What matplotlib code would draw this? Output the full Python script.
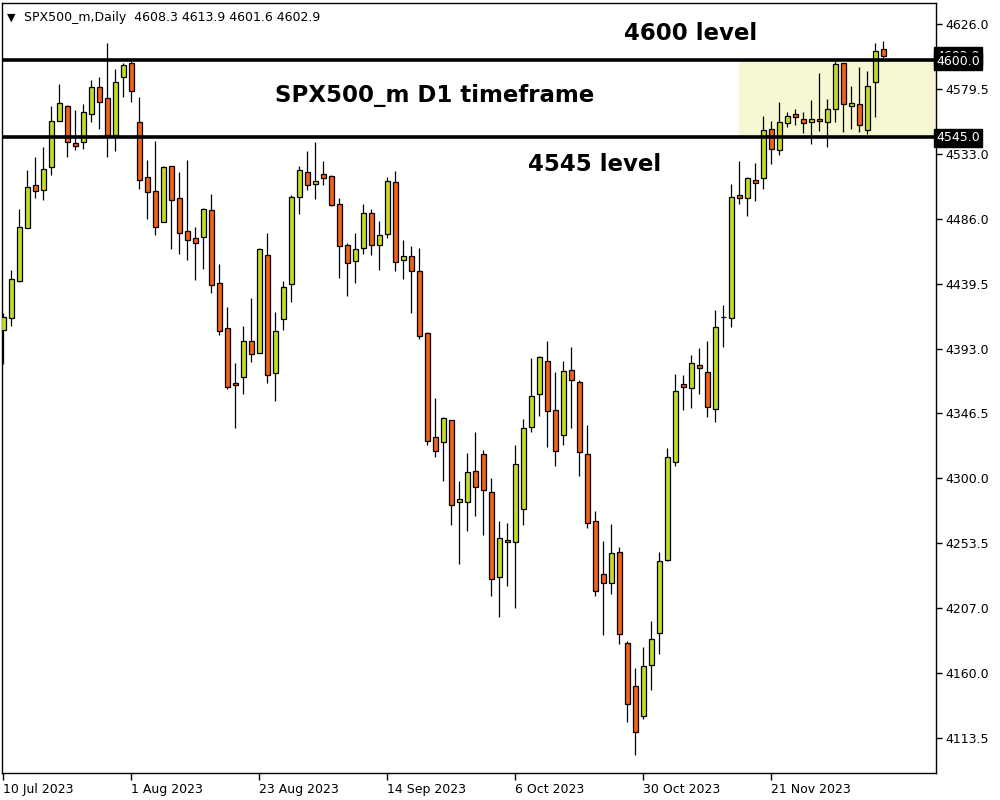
import matplotlib
matplotlib.use("Agg")
import matplotlib.pyplot as plt
from matplotlib.patches import Rectangle
import numpy as np

# ---------------- data ----------------
opens = [4406.3, 4414.9, 4441.5, 4479.5, 4510.4, 4506.8, 4523.3, 4556.4, 4567.1, 4540.6,
         4541.3, 4561.4, 4580.8, 4572.9, 4546.3, 4587.9, 4598.0, 4555.6, 4516.2, 4506.1,
         4483.9, 4524.1, 4501.1, 4477.4, 4472.4, 4473.1, 4492.5, 4440.1, 4407.8, 4368.3,
         4372.6, 4398.4, 4389.8, 4460.2, 4375.5, 4414.2, 4439.3, 4501.8, 4519.7, 4511.1,
         4518.3, 4516.9, 4496.8, 4467.3, 4455.9, 4465.2, 4490.3, 4467.3, 4475.2, 4512.6,
         4456.6, 4459.4, 4448.7, 4404.2, 4329.5, 4325.9, 4341.7, 4282.9, 4282.9, 4305.1,
         4317.3, 4290.0, 4229.0, 4255.6, 4254.2, 4277.8, 4336.7, 4360.4, 4384.1, 4348.9,
         4331.0, 4377.6, 4369.0, 4317.3, 4269.2, 4231.2, 4224.7, 4247.0, 4181.7, 4150.8,
         4129.3, 4165.9, 4188.8, 4241.2, 4311.6, 4367.6, 4364.7, 4381.2, 4376.2, 4349.6,
         4415.7, 4414.9, 4503.2, 4501.1, 4514.0, 4515.4, 4550.6, 4535.5, 4554.9, 4561.4,
         4557.8, 4555.6, 4557.8, 4555.6, 4565.0, 4598.0, 4567.1, 4568.6, 4549.9, 4584.3,
         4608.3]
highs = [4418.5, 4449.4, 4493.2, 4521.2, 4530.5, 4537.7, 4567.1, 4582.9, 4567.8, 4564.2,
         4568.6, 4585.8, 4587.9, 4612.3, 4593.7, 4598.0, 4599.4, 4573.6, 4528.4, 4542.0,
         4524.1, 4524.1, 4519.7, 4528.4, 4480.3, 4493.9, 4504.0, 4453.7, 4422.8, 4382.6,
         4409.2, 4429.3, 4465.2, 4476.0, 4419.3, 4441.5, 4503.2, 4524.1, 4534.8, 4541.3,
         4527.6, 4517.6, 4501.1, 4468.8, 4476.0, 4496.8, 4493.2, 4484.6, 4516.2, 4520.5,
         4470.9, 4466.6, 4465.2, 4404.9, 4357.5, 4343.9, 4341.7, 4297.9, 4318.0, 4333.1,
         4320.2, 4300.1, 4269.2, 4267.8, 4323.8, 4342.4, 4386.2, 4387.7, 4398.4, 4376.2,
         4384.1, 4394.1, 4370.4, 4338.1, 4276.4, 4254.9, 4267.1, 4250.6, 4183.1, 4163.7,
         4178.8, 4197.5, 4247.0, 4321.6, 4374.7, 4374.0, 4388.4, 4393.4, 4398.4, 4420.7,
         4424.3, 4511.1, 4527.6, 4516.2, 4526.2, 4559.9, 4556.4, 4570.0, 4562.8, 4565.0,
         4562.8, 4571.4, 4590.8, 4572.1, 4599.4, 4598.0, 4581.5, 4595.1, 4592.2, 4612.3,
         4613.9]
lows = [4381.9, 4409.2, 4440.8, 4479.5, 4501.1, 4499.6, 4517.6, 4556.4, 4530.5, 4535.5,
        4536.3, 4555.6, 4550.6, 4530.5, 4534.8, 4573.6, 4570.0, 4507.5, 4486.0, 4474.5,
        4483.9, 4464.5, 4460.9, 4456.6, 4442.2, 4450.1, 4432.9, 4402.7, 4364.0, 4336.0,
        4360.4, 4383.4, 4389.8, 4368.3, 4355.4, 4406.3, 4426.4, 4489.6, 4506.8, 4500.4,
        4510.4, 4495.3, 4443.7, 4430.7, 4440.1, 4460.9, 4460.2, 4449.4, 4472.4, 4448.7,
        4442.9, 4418.5, 4399.9, 4323.8, 4315.2, 4297.9, 4266.4, 4238.4, 4262.0, 4272.8,
        4259.2, 4215.4, 4200.3, 4222.6, 4206.8, 4266.4, 4333.1, 4344.6, 4322.3, 4308.7,
        4323.8, 4336.0, 4301.5, 4264.2, 4215.4, 4187.4, 4216.8, 4180.9, 4125.0, 4101.3,
        4127.1, 4147.9, 4173.8, 4240.5, 4308.7, 4348.9, 4350.3, 4360.4, 4343.9, 4340.3,
        4394.1, 4408.5, 4496.8, 4488.2, 4498.9, 4507.5, 4525.5, 4531.9, 4552.0, 4553.5,
        4547.7, 4539.8, 4549.2, 4537.7, 4555.6, 4548.5, 4550.6, 4548.5, 4547.0, 4559.2,
        4601.6]
closes = [4415.7, 4442.9, 4480.3, 4509.0, 4506.1, 4521.9, 4556.4, 4569.3, 4541.3, 4538.4,
          4562.8, 4580.8, 4570.0, 4546.3, 4584.3, 4596.5, 4577.9, 4514.0, 4505.4, 4480.3,
          4523.3, 4499.6, 4476.0, 4470.9, 4468.8, 4493.2, 4438.6, 4405.6, 4365.4, 4366.9,
          4398.4, 4389.1, 4464.5, 4374.0, 4405.6, 4437.2, 4501.8, 4521.2, 4510.4, 4513.3,
          4515.4, 4496.1, 4466.6, 4454.4, 4464.5, 4490.3, 4467.3, 4474.5, 4513.3, 4455.1,
          4459.4, 4448.7, 4402.0, 4326.7, 4319.5, 4343.2, 4280.7, 4285.0, 4304.4, 4293.6,
          4291.5, 4227.6, 4257.0, 4254.2, 4310.1, 4336.0, 4359.0, 4386.9, 4348.2, 4319.5,
          4376.9, 4370.4, 4318.8, 4267.8, 4219.0, 4224.7, 4246.3, 4188.1, 4137.9, 4117.8,
          4165.1, 4184.5, 4240.5, 4315.2, 4362.5, 4365.4, 4382.6, 4379.1, 4351.1, 4408.5,
          4415.7, 4501.8, 4501.1, 4515.4, 4511.8, 4549.9, 4536.3, 4555.6, 4559.9, 4559.2,
          4554.9, 4557.8, 4556.4, 4565.0, 4597.3, 4568.6, 4569.3, 4553.5, 4581.5, 4606.6,
          4602.9]

date_ticks = [0, 16, 32, 48, 64, 80, 96]
date_labels = ["10 Jul 2023", "1 Aug 2023", "23 Aug 2023", "14 Sep 2023",
               "6 Oct 2023", "30 Oct 2023", "21 Nov 2023"]
price_ticks = [4626.0, 4579.5, 4533.0, 4486.0, 4439.5, 4393.0, 4346.5,
               4300.0, 4253.5, 4207.0, 4160.0, 4113.5]
level_high = 4600.0
level_low = 4545.0
symbol = "SPX500_m,Daily"

# ---------------- figure ----------------
plt.rcParams['font.family'] = ['DejaVu Sans']
fig = plt.figure(figsize=(10, 8), dpi=100)
ax = fig.add_axes([0.0023, 1 - 773 / 800, 0.9337, (773 - 3) / 800])

GREEN = '#C5D82C'
RED = '#F2611F'

n = len(opens)
x = np.arange(n)
o = np.array(opens); c = np.array(closes)
h = np.array(highs); l = np.array(lows)

# consolidation zone
ax.add_patch(Rectangle((91.95, level_low), 40, level_high - level_low,
                       facecolor='#F7F7D3', edgecolor='none', zorder=0))

ax.vlines(x, l, h, color='black', linewidth=0.9, zorder=2)
cols = [GREEN if cc > oo else RED for oo, cc in zip(o, c)]
bottoms = np.minimum(o, c)
heights = np.abs(c - o)
ax.bar(x, heights, bottom=bottoms, width=0.55, color=cols,
       edgecolor='black', linewidth=0.9, zorder=3)

ax.axhline(level_high, color='black', linewidth=2.6, zorder=4)
ax.axhline(level_low, color='black', linewidth=2.6, zorder=4)

ax.set_xlim(-0.14, 116.57)
ax.set_ylim(4088.3, 4641.05)

# axes styling
for s in ax.spines.values():
    s.set_color('black')
    s.set_linewidth(1.0)
ax.yaxis.tick_right()
ax.set_yticks(price_ticks)
ax.set_yticklabels([f"{v:.1f}" for v in price_ticks])
ax.tick_params(axis='y', direction='out', length=4, width=1, pad=3,
               labelsize=9, colors='black')
ax.set_xticks(date_ticks)
ax.set_xticklabels(date_labels, ha='left')
ax.tick_params(axis='x', direction='out', length=5, width=1, pad=2,
               labelsize=9, colors='black')

# highlighted price labels on the right
box = dict(facecolor='black', edgecolor='black', boxstyle='square,pad=0.18')
ax.text(1.0, closes[-1], f"{closes[-1]:.1f}", transform=ax.get_yaxis_transform(),
        ha='left', va='center', color='white', fontsize=9, bbox=box, zorder=5,
        clip_on=False)
for lv in (level_high, level_low):
    ax.text(1.0, lv - 0.8, f"{lv:.1f}", transform=ax.get_yaxis_transform(),
            ha='left', va='center', color='white', fontsize=9, bbox=box, zorder=6,
            clip_on=False)

# header
ax.text(0.005, 0.988, "\u25BC", transform=ax.transAxes, ha='left', va='top',
        fontsize=8, color='black')
ax.text(0.023, 0.99, f"{symbol}  {opens[-1]:.1f} {highs[-1]:.1f} {lows[-1]:.1f} {closes[-1]:.1f}",
        transform=ax.transAxes, ha='left', va='top', fontsize=9, color='black')

# annotations
ax.text(85.95, 4618.8, "4600 level", ha='center', va='center',
        fontsize=16.5, fontweight='bold', color='black', zorder=6)
ax.text(53.95, 4574.3, "SPX500_m D1 timeframe", ha='center', va='center',
        fontsize=16.5, fontweight='bold', color='black', zorder=6)
ax.text(73.95, 4524.8, "4545 level", ha='center', va='center',
        fontsize=16.5, fontweight='bold', color='black', zorder=6)

fig.savefig("out.png", dpi=100, facecolor='white')
